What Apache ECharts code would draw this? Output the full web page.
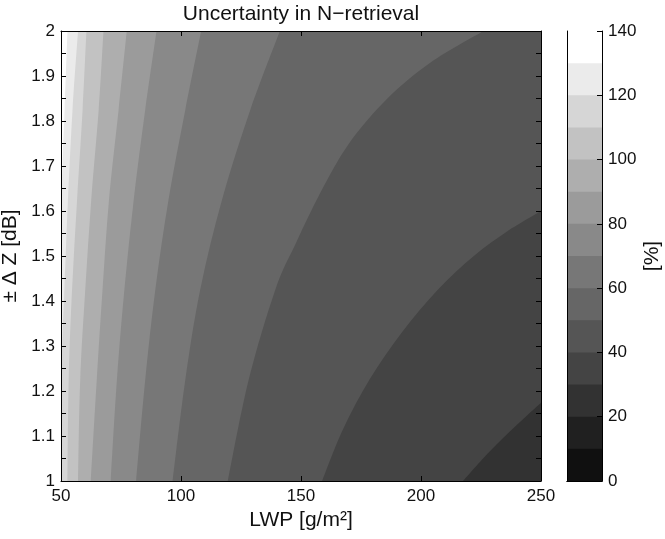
<!DOCTYPE html>
<html><head><meta charset="utf-8">
<script src="https://cdn.jsdelivr.net/npm/echarts@6/dist/echarts.min.js"></script>
<style>html,body{margin:0;padding:0;background:#fff}#c{width:665px;height:539px}</style>
</head><body><div id="c"></div>
<script>
// ---- axis ranges & ticks ----
const xMin = 50, xMax = 250, xStep = 50;
const yMin = 1, yMax = 2, yStep = 0.1;
const cbMin = 0, cbMax = 140, cbStep = 20;
const cbLevels = [0,10,20,30,40,50,60,70,80,90,100,110,120,130,140];

// ---- contour lines: [LWP, dZ] ----
const c130 = [[52.7,2],[51.5,1.825],[50.6,1.7],[50,1.6]];
const c120 = [[57.1,2],[54.8,1.825],[52.9,1.625],[51.4,1.425],[50.5,1.3],[50,1.2]];
const c110 = [[60.6,2],[59.0,1.825],[56.7,1.625],[54.6,1.425],[53.2,1.225],[52.7,1]];
const c100 = [[67.7,2],[65.7,1.825],[62.6,1.625],[60.1,1.425],[58.0,1.225],[57.1,1]];
const c90  = [[77.4,2],[74.0,1.825],[70.0,1.625],[67.3,1.425],[64.9,1.225],[62.4,1]];
const c80  = [[89.8,2],[85.1,1.825],[80.3,1.625],[76.4,1.425],[73.3,1.225],[70.7,1]];
const c70  = [[108.4,2],[101.8,1.825],[94.8,1.625],[89.3,1.425],[85.1,1.225],[81.3,1]];
const c60  = [[141.2,2],[128.9,1.825],[117.1,1.625],[108.0,1.425],[101.8,1.225],[96.5,1]];
const c50  = [[226,2],[204,1.93],[186,1.85],[170,1.75],[158,1.64],[148,1.53],[139.3,1.425],[128.2,1.225],[119.5,1]];
const c40  = [[250,1.6],[236,1.555],[222,1.5],[207,1.425],[192,1.33],[178.5,1.225],[167.5,1.115],[158.8,1]];
const c30  = [[250,1.174],[240,1.125],[228.5,1.065],[217.5,1]];

const filledLevels = [20,30,40,50,60,70,80,90,100,110,120,130];
const contours = {30:c30,40:c40,50:c50,60:c60,70:c70,80:c80,90:c90,100:c100,110:c110,120:c120,130:c130};

// gray colormap, one per 10-unit band
const grays = ['#101010','#202020','#323232','#444444','#555555','#666666','#777777','#898989','#9b9b9b','#aeaeae','#c2c2c2','#d6d6d6','#ebebeb','#ffffff'];

const FONT = 'Liberation Sans, Arial, Helvetica, sans-serif';
const TXT = '#111';

function renderContour(params, api) {
  const lv = filledLevels[params.dataIndex];
  const color = grays[Math.round(lv / 10)];
  const c = contours[lv];
  if (!c) {
    const a = api.coord([xMin, yMax]), b = api.coord([xMax, yMin]);
    return {type: 'rect', shape: {x: a[0], y: a[1], width: b[0] - a[0], height: b[1] - a[1]}, style: {fill: color}};
  }
  const pts = c.map(p => api.coord(p));
  let d = 'M' + pts[0][0] + ' ' + pts[0][1];
  for (let i = 0; i < pts.length - 1; i++) {
    const p0 = pts[Math.max(i - 1, 0)], p1 = pts[i], p2 = pts[i + 1], p3 = pts[Math.min(i + 2, pts.length - 1)];
    const k1 = [p1[0] + (p2[0] - p0[0]) / 6, p1[1] + (p2[1] - p0[1]) / 6];
    const k2 = [p2[0] - (p3[0] - p1[0]) / 6, p2[1] - (p3[1] - p1[1]) / 6];
    d += ' C' + k1[0] + ' ' + k1[1] + ' ' + k2[0] + ' ' + k2[1] + ' ' + p2[0] + ' ' + p2[1];
  }
  const first = c[0], last = c[c.length - 1];
  const corners = [];
  if (last[1] === yMin) corners.push([xMin, yMin]);
  corners.push([xMin, yMax]);
  if (first[0] === xMax) corners.push([xMax, yMax]);
  corners.forEach(q => { const p = api.coord(q); d += ' L' + p[0] + ' ' + p[1]; });
  d += ' Z';
  return {type: 'path', shape: {pathData: d}, style: {fill: color}};
}

// colour bar: each band painted from its lower level to the top, later bands overlay
function renderBar(params, api) {
  const lo = cbLevels[params.dataIndex];
  const top = api.coord([0, cbMax]), bot = api.coord([0, lo]);
  const w = api.size([1, 0])[0];
  return {type: 'rect', shape: {x: top[0] - w / 2, y: top[1], width: w, height: bot[1] - top[1]},
          style: {fill: grays[params.dataIndex]}};
}

const axLine = {show: true, lineStyle: {color: '#000', width: 1}};
const tick = {show: true, inside: true, length: 5, lineStyle: {color: '#000'}};
const lab = {color: TXT, fontFamily: FONT, fontSize: 17};
const nameStyle = {color: TXT, fontFamily: FONT, fontSize: 21};

const option = {
  backgroundColor: '#fff',
  animation: false,
  textStyle: {fontFamily: FONT},
  grid: [
    {left: 61, top: 31, width: 480, height: 450, containLabel: false, outerBoundsMode: 'none'},
    {left: 567, top: 31, width: 35, height: 450, containLabel: false, outerBoundsMode: 'none'}
  ],
  xAxis: [
    {gridIndex: 0, type: 'value', min: xMin, max: xMax, interval: xStep, position: 'bottom', z: 10,
     axisLine: axLine, axisTick: tick, splitLine: {show: false}, axisLabel: Object.assign({margin: 7}, lab),
     name: 'LWP [g/m²]', nameLocation: 'middle', nameGap: 29, nameTextStyle: nameStyle},
    {gridIndex: 0, type: 'value', min: xMin, max: xMax, interval: xStep, position: 'top', z: 10,
     axisLine: axLine, axisTick: tick, splitLine: {show: false}, axisLabel: {show: false}},
    {gridIndex: 1, type: 'category', data: [''], position: 'bottom', z: 10,
     axisLine: axLine, axisTick: {show: false}, axisLabel: {show: false}},
    {gridIndex: 1, type: 'category', data: [''], position: 'top', z: 10,
     axisLine: axLine, axisTick: {show: false}, axisLabel: {show: false}}
  ],
  yAxis: [
    {gridIndex: 0, type: 'value', min: yMin, max: yMax, interval: yStep, position: 'left', z: 10,
     axisLine: axLine, axisTick: tick, minorTick: {show: true, splitNumber: 2, length: 5, lineStyle: {color: '#000'}},
     splitLine: {show: false}, minorSplitLine: {show: false}, axisLabel: Object.assign({margin: 6}, lab),
     name: '± Δ Z [dB]', nameLocation: 'middle', nameGap: 35, nameRotate: 90, nameTextStyle: nameStyle},
    {gridIndex: 0, type: 'value', min: yMin, max: yMax, interval: yStep, position: 'right', z: 10,
     axisLine: axLine, axisTick: tick, minorTick: {show: true, splitNumber: 2, length: 5, lineStyle: {color: '#000'}},
     splitLine: {show: false}, axisLabel: {show: false}},
    {gridIndex: 1, type: 'value', min: cbMin, max: cbMax, interval: cbStep, position: 'right', z: 10,
     axisLine: axLine, axisTick: tick, splitLine: {show: false}, axisLabel: Object.assign({margin: 6}, lab),
     name: '[%]', nameLocation: 'middle', nameGap: 40, nameRotate: 90, nameTextStyle: nameStyle},
    {gridIndex: 1, type: 'value', min: cbMin, max: cbMax, interval: cbStep, position: 'left', z: 10,
     axisLine: axLine, axisTick: {show: false}, splitLine: {show: false}, axisLabel: {show: false}}
  ],
  graphic: [
    {type: 'text', x: 301, y: 14, z: 20,
     style: {text: 'Uncertainty in N\u2212retrieval', fill: TXT, font: '21px ' + FONT,
             align: 'center', verticalAlign: 'middle', textAlign: 'center', textVerticalAlign: 'middle'}}
  ],
  series: [
    {type: 'custom', xAxisIndex: 0, yAxisIndex: 0, clip: true, silent: true, z: 2,
     data: filledLevels.map(l => [l]), renderItem: renderContour},
    {type: 'custom', xAxisIndex: 2, yAxisIndex: 2, clip: true, silent: true, z: 2,
     data: cbLevels.slice(0, -1).map(lo => [0, lo]), renderItem: renderBar}
  ]
};

const chart = echarts.init(document.getElementById('c'), null, {renderer: 'canvas'});
chart.setOption(option);
</script>
</body></html>
